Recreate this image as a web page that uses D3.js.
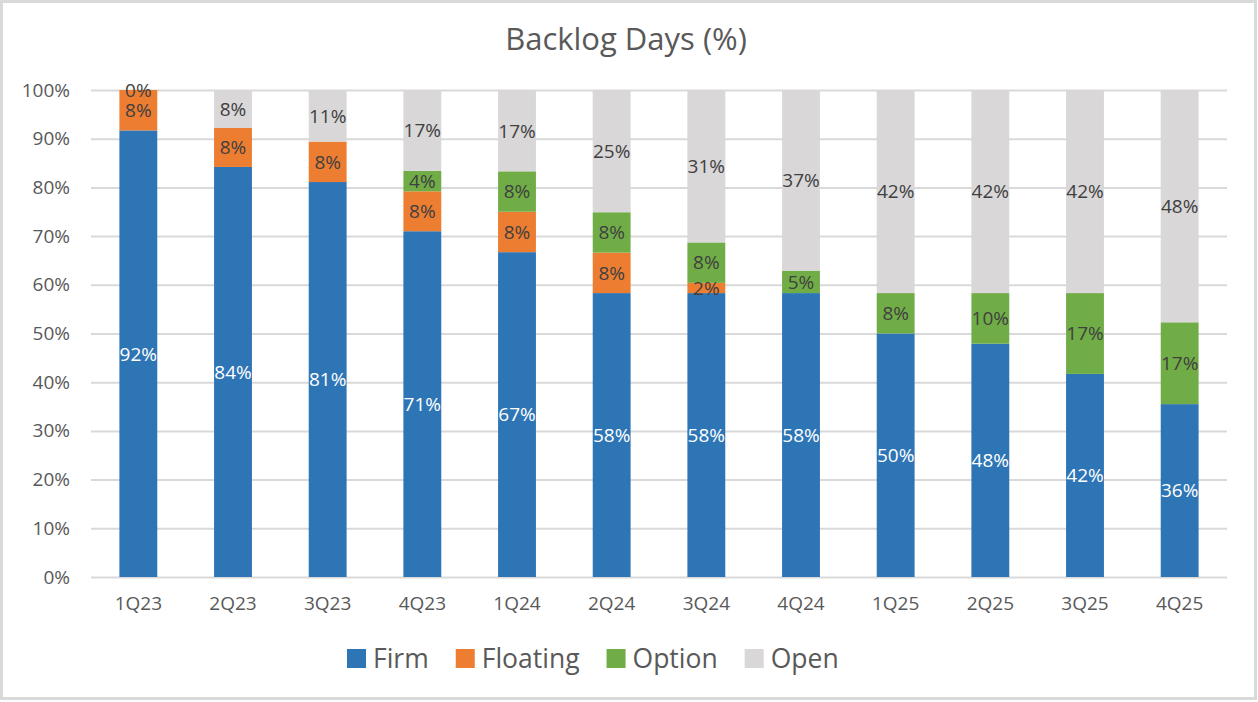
<!DOCTYPE html>
<html>
<head>
<meta charset="utf-8">
<script src="https://cdn.jsdelivr.net/npm/d3@7"></script>
<style>
  body { margin: 0; background: #fff; }
  svg { display: block; font-family: "Open Sans", sans-serif; }
</style>
</head>
<body>
<svg id="chart" width="1258" height="702"></svg>
<script>
// quarters on the x axis
const quarters = ["1Q23", "2Q23", "3Q23", "4Q23", "1Q24", "2Q24", "3Q24", "4Q24", "1Q25", "2Q25", "3Q25", "4Q25"];
// share of backlog days (%), null = no value in that quarter
const firm     = [91.7, 84.2, 81.1, 71.0, 66.7, 58.3, 58.3, 58.3, 50.0, 47.9, 41.7, 35.5];
const floating = [8.3, 8.0, 8.3, 8.2, 8.3, 8.3, 2.1, null, null, null, null, null];
const option   = [null, null, null, 4.2, 8.3, 8.3, 8.3, 4.6, 8.3, 10.4, 16.6, 16.8];
const open     = [0, 7.8, 10.6, 16.6, 16.7, 25.1, 31.3, 37.1, 41.7, 41.7, 41.7, 47.7];
const yTicks   = [0, 10, 20, 30, 40, 50, 60, 70, 80, 90, 100];

const series = [
  { name: "Firm", values: firm, color: "#2E75B6", label: "#ffffff" },
  { name: "Floating", values: floating, color: "#ED7D31", label: "#404040" },
  { name: "Option", values: option, color: "#70AD47", label: "#404040" },
  { name: "Open", values: open, color: "#D9D7D8", label: "#404040" }
];

const W = 1258, H = 702;
const svg = d3.select("#chart");

// chart border
svg.append("rect")
  .attr("x", 1.5).attr("y", 1.5)
  .attr("width", W - 4).attr("height", H - 5)
  .attr("fill", "#fff").attr("stroke", "#D9D9D9").attr("stroke-width", 3);

const x = d3.scaleBand().domain(quarters).range([91, 1227]).paddingInner(0.6).paddingOuter(0.3);
const y = d3.scaleLinear().domain([0, 100]).range([577, 90]);

// title
svg.append("text")
  .attr("x", 626).attr("y", 50)
  .attr("text-anchor", "middle")
  .attr("font-size", 31).attr("fill", "#595959")
  .text("Backlog Days (%)");

// gridlines + y labels
const yAxis = svg.append("g").attr("transform", "translate(91,0)")
  .call(d3.axisLeft(y).tickValues(yTicks).tickFormat(d => d + "%").tickSize(-1136).tickPadding(21));
yAxis.select(".domain").remove();
yAxis.selectAll(".tick line").attr("stroke", "#D9D9D9").attr("stroke-width", 2);
yAxis.selectAll(".tick text").attr("font-size", 19).attr("fill", "#595959").attr("font-family", "Open Sans");

// x labels
const xAxis = svg.append("g").attr("transform", "translate(0,577)")
  .call(d3.axisBottom(x).tickSize(0).tickPadding(20));
xAxis.select(".domain").remove();
xAxis.selectAll(".tick text").attr("font-size", 19).attr("fill", "#595959").attr("font-family", "Open Sans");

// stack the segments
const stacked = [];
quarters.forEach((q, i) => {
  let base = 0;
  series.forEach(s => {
    const v = s.values[i];
    if (v === null) return;
    stacked.push({ q: q, s: s, y0: base, y1: base + v, v: v });
    base += v;
  });
});

svg.append("g").selectAll("rect")
  .data(stacked)
  .join("rect")
  .attr("x", d => x(d.q))
  .attr("width", x.bandwidth())
  .attr("y", d => y(d.y1))
  .attr("height", d => y(d.y0) - y(d.y1))
  .attr("fill", d => d.s.color);

svg.append("g").selectAll("text")
  .data(stacked)
  .join("text")
  .attr("x", d => x(d.q) + x.bandwidth() / 2)
  .attr("y", d => y((d.y0 + d.y1) / 2))
  .attr("dy", "0.36em")
  .attr("text-anchor", "middle")
  .attr("font-size", 19)
  .attr("fill", d => d.s.label)
  .text(d => Math.round(d.v) + "%");

// legend
const legend = svg.append("g").attr("transform", "translate(347,0)");
let lx = 0;
series.forEach(s => {
  const g = legend.append("g").attr("transform", `translate(${lx},0)`);
  g.append("rect").attr("x", 0).attr("y", 649).attr("width", 19).attr("height", 19).attr("fill", s.color);
  const t = g.append("text").attr("x", 26).attr("y", 668)
    .attr("font-size", 26.5).attr("fill", "#595959").text(s.name);
  lx += 26 + t.node().getComputedTextLength() + 27;
});
</script>
</body>
</html>
